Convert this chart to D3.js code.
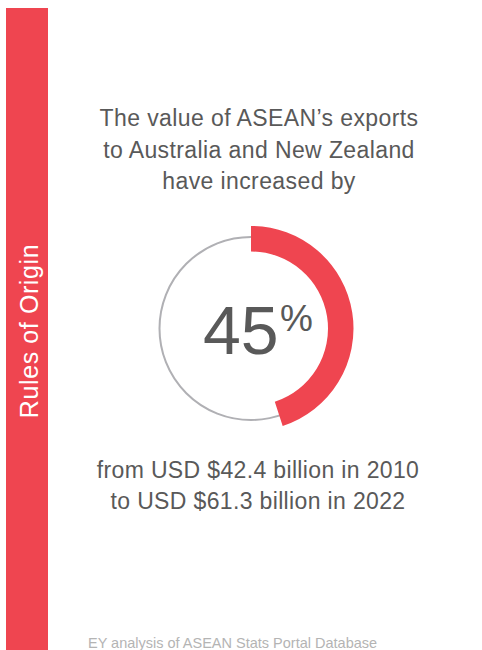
<!DOCTYPE html>
<html>
<head>
<meta charset="utf-8">
<script src="https://cdn.jsdelivr.net/npm/d3@7"></script>
<style>
  body { margin: 0; background: #fff; }
  text { font-family: "Liberation Sans", Arial, sans-serif; }
</style>
</head>
<body>
<svg id="chart" width="482" height="650"></svg>
<script>
// chart data
const sideLabel = "Rules of Origin";
const titleLines = ["The value of ASEAN\u2019s exports", "to Australia and New Zealand", "have increased by"];
const growthPct = 45;
const exportValues = [42.4, 61.3];   // USD billion
const exportYears = [2010, 2022];
const sourceNote = "EY analysis of ASEAN Stats Portal Database";

const red = "#ef4550";
const grey = "#595959";

const svg = d3.select("#chart");

// side band
svg.append("rect")
    .attr("x", 6)
    .attr("y", 8)
    .attr("width", 42)
    .attr("height", 650)
    .style("fill", red);

svg.append("text")
    .attr("transform", "translate(38,331) rotate(-90)")
    .attr("text-anchor", "middle")
    .text(sideLabel)
    .style("font-size", "25px")
    .style("letter-spacing", "0.6px")
    .style("fill", "#fff");

// title
svg.selectAll("text.title")
    .data(titleLines)
    .enter().append("text")
    .classed("title", true)
    .attr("x", 259)
    .attr("y", (d, i) => 126 + i * 31.5)
    .attr("text-anchor", "middle")
    .text(d => d)
    .style("font-size", "23px")
    .style("letter-spacing", "0.4px")
    .style("fill", grey);

// donut
const cx = 251, cy = 328.5;
const angle = d3.scaleLinear().domain([0, 100]).range([0, 2 * Math.PI]);

const g = svg.append("g").attr("transform", `translate(${cx},${cy})`);

g.append("circle")
    .attr("r", 91.5)
    .style("fill", "none")
    .style("stroke", "#b0b0b4")
    .style("stroke-width", 2);

const arc = d3.arc()
    .innerRadius(77)
    .outerRadius(102.5)
    .startAngle(0);

g.append("path")
    .datum({endAngle: angle(growthPct)})
    .attr("d", arc)
    .style("fill", red);

svg.append("text")
    .attr("x", 203)
    .attr("y", 354)
    .text(growthPct)
    .style("font-size", "68px")
    .style("fill", grey);

svg.append("text")
    .attr("x", 280)
    .attr("y", 331)
    .text("%")
    .style("font-size", "37px")
    .style("fill", grey);

// bottom text
const fmt = d3.format(".1f");
const bottomLines = [
    `from USD $${fmt(exportValues[0])} billion in ${exportYears[0]}`,
    `to USD $${fmt(exportValues[1])} billion in ${exportYears[1]}`
];
svg.selectAll("text.bottom")
    .data(bottomLines)
    .enter().append("text")
    .classed("bottom", true)
    .attr("x", 258)
    .attr("y", (d, i) => 478 + i * 31)
    .attr("text-anchor", "middle")
    .text(d => d)
    .style("font-size", "23px")
    .style("letter-spacing", "0.35px")
    .style("fill", grey);

// source
svg.append("text")
    .attr("x", 88)
    .attr("y", 648)
    .text(sourceNote)
    .style("font-size", "14.5px")
    .style("fill", "#b4b4b4");
</script>
</body>
</html>
